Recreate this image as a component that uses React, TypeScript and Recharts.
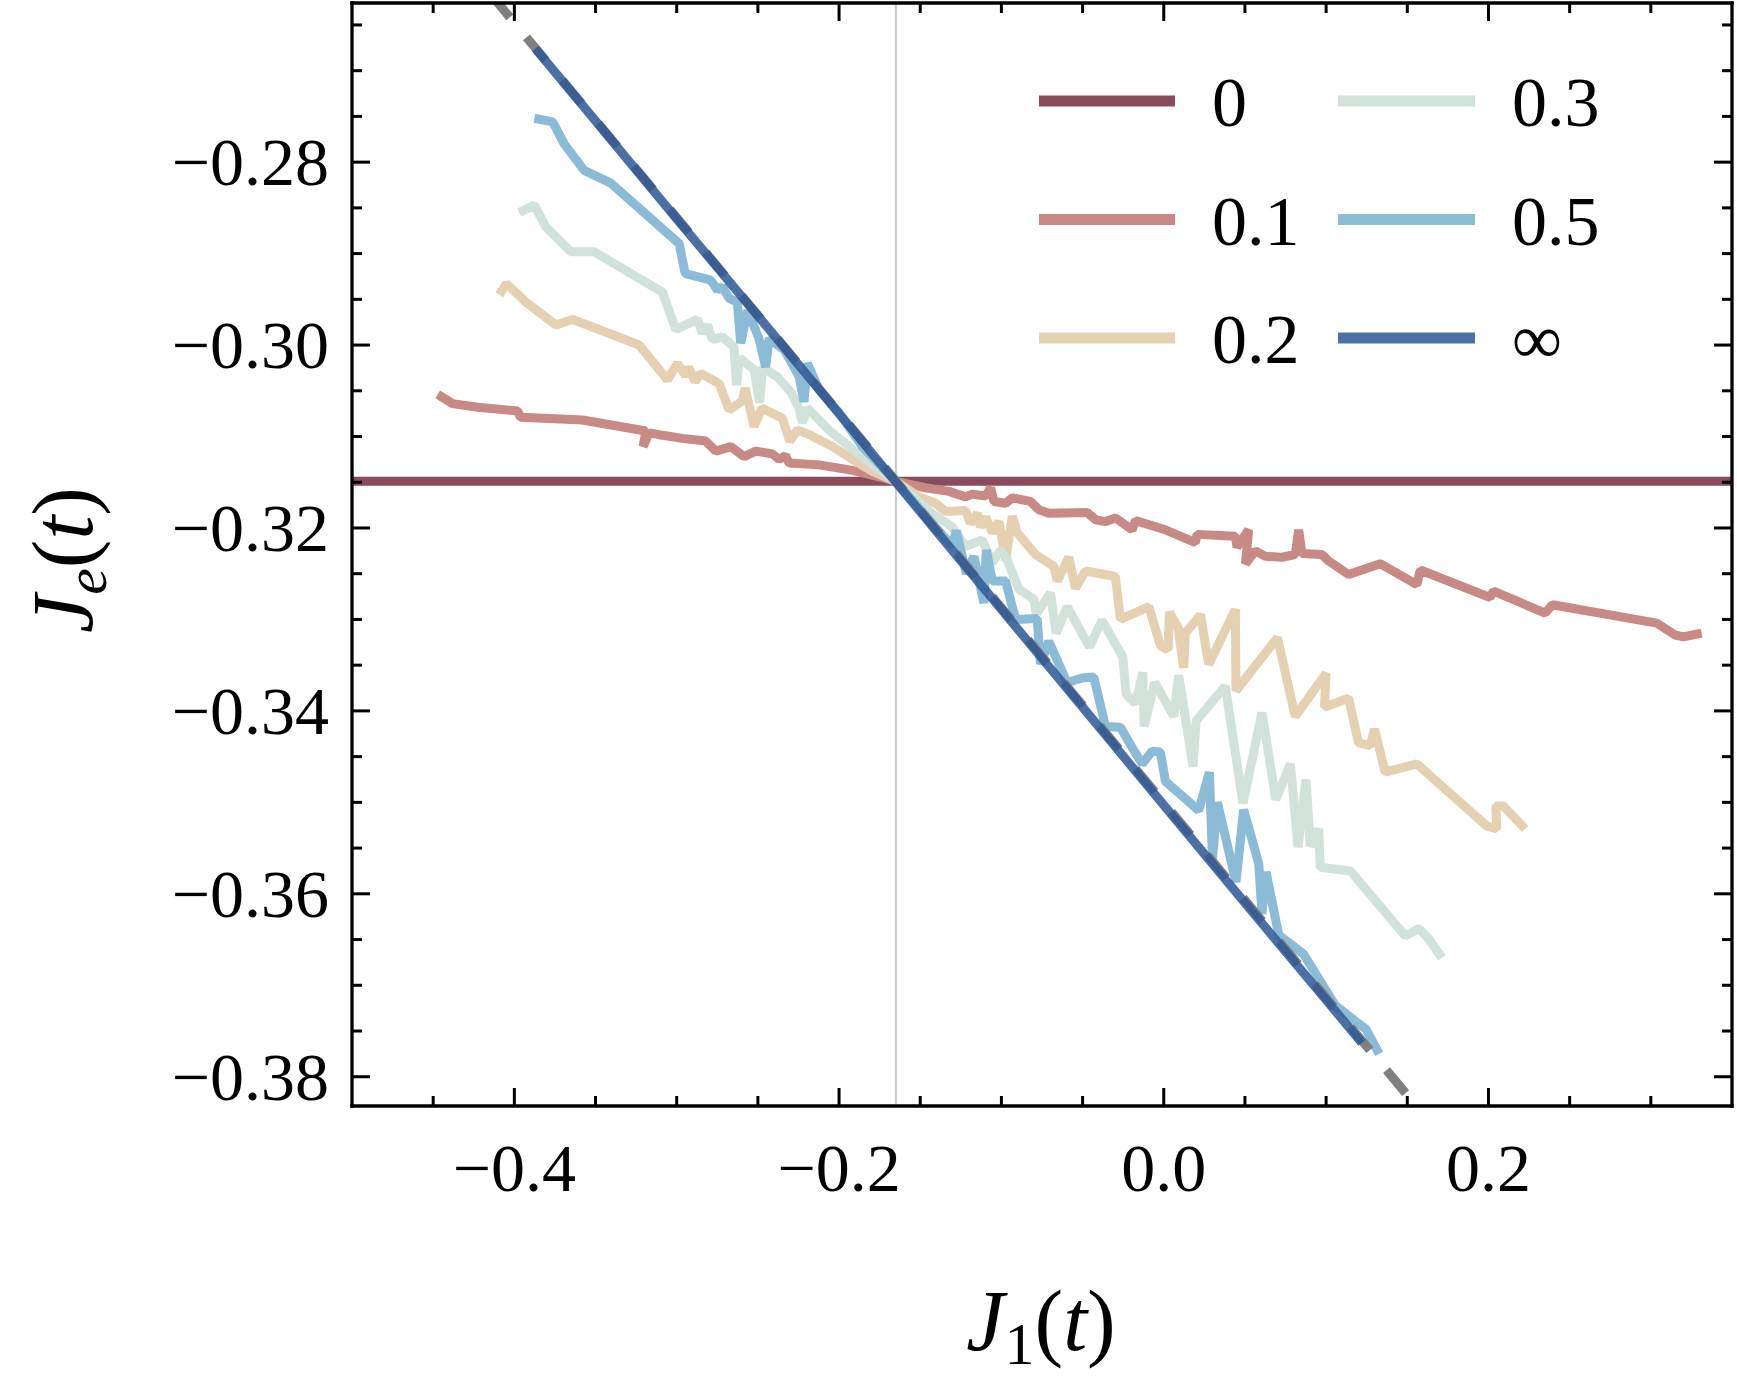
import React from "react";
import { LineChart, Line, XAxis, YAxis } from "recharts";

// axis ticks
const xMajorTicks = [-0.4, -0.2, 0.0, 0.2];
const xTickLabels = ["−0.4", "−0.2", "0.0", "0.2"];
const xMinorTicks = [-0.45, -0.35, -0.3, -0.25, -0.15, -0.1, -0.05, 0.05, 0.1, 0.15, 0.25, 0.3];
const yMajorTicks = [-0.28, -0.3, -0.32, -0.34, -0.36, -0.38];
const yTickLabels = ["−0.28", "−0.30", "−0.32", "−0.34", "−0.36", "−0.38"];
const yMinorTicks = [
  -0.265, -0.27, -0.275, -0.285, -0.29, -0.295, -0.305, -0.31, -0.315, -0.325, -0.33, -0.335,
  -0.345, -0.35, -0.355, -0.365, -0.37, -0.375,
];

const xDomain = [-0.5, 0.35];
const yDomain = [-0.3832, -0.2626];

// crossing point marker (thin vertical line)
const crossX = -0.165;
const crossLine = [
  { x: crossX, y: -0.3832 },
  { x: crossX, y: -0.2626 },
];

// kappa = 0 : flat
const kappa0 = [
  { x: -0.5, y: -0.3149 },
  { x: 0.35, y: -0.3149 },
];

const kappa01 = [
  { x: -0.4472, y: -0.3054 }, { x: -0.438, y: -0.3064 }, { x: -0.4226, y: -0.3068 },
  { x: -0.398, y: -0.3072 }, { x: -0.3962, y: -0.3079 }, { x: -0.358, y: -0.3082 },
  { x: -0.319, y: -0.3094 }, { x: -0.3207, y: -0.3111 }, { x: -0.317, y: -0.3096 },
  { x: -0.3108, y: -0.3098 }, { x: -0.2965, y: -0.3102 }, { x: -0.2821, y: -0.3105 },
  { x: -0.2759, y: -0.3116 }, { x: -0.2667, y: -0.3111 }, { x: -0.2585, y: -0.3122 },
  { x: -0.2513, y: -0.3116 }, { x: -0.2411, y: -0.3119 }, { x: -0.237, y: -0.3125 },
  { x: -0.2329, y: -0.3121 }, { x: -0.2308, y: -0.3129 }, { x: -0.2123, y: -0.3131 },
  { x: -0.1918, y: -0.3137 }, { x: -0.1754, y: -0.3144 }, { x: -0.165, y: -0.3149 },
  { x: -0.1467, y: -0.3156 }, { x: -0.1323, y: -0.316 }, { x: -0.1221, y: -0.3166 },
  { x: -0.118, y: -0.3163 }, { x: -0.1097, y: -0.3165 }, { x: -0.1067, y: -0.3156 },
  { x: -0.1046, y: -0.3171 }, { x: -0.0974, y: -0.3173 }, { x: -0.0933, y: -0.3167 },
  { x: -0.0821, y: -0.3171 }, { x: -0.0769, y: -0.318 }, { x: -0.0708, y: -0.3184 },
  { x: -0.0472, y: -0.3183 }, { x: -0.0421, y: -0.3191 }, { x: -0.0359, y: -0.3193 },
  { x: -0.0297, y: -0.3189 }, { x: -0.0195, y: -0.3202 }, { x: -0.0174, y: -0.3192 },
  { x: 0.001, y: -0.3202 }, { x: 0.0195, y: -0.3216 }, { x: 0.0205, y: -0.3207 },
  { x: 0.0441, y: -0.3209 }, { x: 0.0451, y: -0.3221 }, { x: 0.0523, y: -0.3202 },
  { x: 0.0503, y: -0.3239 }, { x: 0.0564, y: -0.3225 }, { x: 0.0626, y: -0.3231 },
  { x: 0.0728, y: -0.3232 }, { x: 0.081, y: -0.3229 }, { x: 0.0831, y: -0.3202 },
  { x: 0.0851, y: -0.3228 }, { x: 0.0974, y: -0.3229 }, { x: 0.1015, y: -0.3236 },
  { x: 0.1139, y: -0.3251 }, { x: 0.1333, y: -0.3239 }, { x: 0.1559, y: -0.3262 },
  { x: 0.158, y: -0.3246 }, { x: 0.201, y: -0.3276 }, { x: 0.2031, y: -0.3269 },
  { x: 0.2349, y: -0.3293 }, { x: 0.2394, y: -0.3284 }, { x: 0.3036, y: -0.3304 },
  { x: 0.3149, y: -0.3317 }, { x: 0.32, y: -0.3319 }, { x: 0.3313, y: -0.3315 },
];

const kappa02 = [
  { x: -0.4093, y: -0.2945 }, { x: -0.4048, y: -0.2933 }, { x: -0.3929, y: -0.2953 },
  { x: -0.3744, y: -0.2978 }, { x: -0.3641, y: -0.2972 }, { x: -0.3231, y: -0.3 },
  { x: -0.3057, y: -0.3038 }, { x: -0.2995, y: -0.302 }, { x: -0.2944, y: -0.3034 },
  { x: -0.2928, y: -0.3024 }, { x: -0.2887, y: -0.304 }, { x: -0.2852, y: -0.3031 },
  { x: -0.2739, y: -0.3042 }, { x: -0.2677, y: -0.3071 }, { x: -0.2595, y: -0.3061 },
  { x: -0.2579, y: -0.3047 }, { x: -0.2523, y: -0.3089 }, { x: -0.2476, y: -0.3069 },
  { x: -0.2349, y: -0.308 }, { x: -0.2304, y: -0.3105 }, { x: -0.2257, y: -0.3093 },
  { x: -0.2195, y: -0.3097 }, { x: -0.2041, y: -0.3111 }, { x: -0.1918, y: -0.3125 },
  { x: -0.1795, y: -0.3138 }, { x: -0.165, y: -0.3149 }, { x: -0.1508, y: -0.3166 },
  { x: -0.1405, y: -0.3173 }, { x: -0.1344, y: -0.3182 }, { x: -0.1221, y: -0.3181 },
  { x: -0.119, y: -0.3195 }, { x: -0.1149, y: -0.3184 }, { x: -0.1128, y: -0.3199 },
  { x: -0.1097, y: -0.3188 }, { x: -0.1056, y: -0.3205 }, { x: -0.1015, y: -0.3193 },
  { x: -0.0974, y: -0.3235 }, { x: -0.0933, y: -0.3187 }, { x: -0.0903, y: -0.3205 },
  { x: -0.079, y: -0.3229 }, { x: -0.0677, y: -0.3242 }, { x: -0.0656, y: -0.3258 },
  { x: -0.0585, y: -0.3232 }, { x: -0.0544, y: -0.3266 }, { x: -0.0482, y: -0.3247 },
  { x: -0.0298, y: -0.3253 }, { x: -0.0267, y: -0.33 }, { x: -0.0092, y: -0.3286 },
  { x: -0.002, y: -0.3329 }, { x: 0.0027, y: -0.3333 }, { x: 0.0035, y: -0.3292 },
  { x: 0.0088, y: -0.3309 }, { x: 0.0123, y: -0.3353 }, { x: 0.0133, y: -0.3315 },
  { x: 0.0226, y: -0.3295 }, { x: 0.0277, y: -0.3349 }, { x: 0.0441, y: -0.3289 },
  { x: 0.0445, y: -0.3378 }, { x: 0.07, y: -0.332 }, { x: 0.081, y: -0.3406 },
  { x: 0.0999, y: -0.3359 }, { x: 0.099, y: -0.3396 }, { x: 0.1138, y: -0.3386 },
  { x: 0.12, y: -0.3435 }, { x: 0.1272, y: -0.3438 }, { x: 0.1298, y: -0.342 },
  { x: 0.1364, y: -0.3467 }, { x: 0.1559, y: -0.3458 }, { x: 0.199, y: -0.3526 },
  { x: 0.2051, y: -0.3529 }, { x: 0.2045, y: -0.3504 }, { x: 0.2092, y: -0.3504 },
  { x: 0.2226, y: -0.3529 },
];

const kappa03 = [
  { x: -0.397, y: -0.2855 }, { x: -0.3877, y: -0.2847 }, { x: -0.3805, y: -0.2871 },
  { x: -0.3652, y: -0.2898 }, { x: -0.3508, y: -0.2898 }, { x: -0.3088, y: -0.2942 },
  { x: -0.3006, y: -0.2983 }, { x: -0.2872, y: -0.2972 }, { x: -0.2841, y: -0.2987 },
  { x: -0.2811, y: -0.2978 }, { x: -0.278, y: -0.2994 }, { x: -0.2718, y: -0.2991 },
  { x: -0.2647, y: -0.3002 }, { x: -0.2632, y: -0.3044 }, { x: -0.2612, y: -0.3014 },
  { x: -0.2523, y: -0.3027 }, { x: -0.2489, y: -0.3063 }, { x: -0.2472, y: -0.3024 },
  { x: -0.238, y: -0.3035 }, { x: -0.2298, y: -0.3051 }, { x: -0.2247, y: -0.3069 },
  { x: -0.2226, y: -0.3085 }, { x: -0.2195, y: -0.3069 }, { x: -0.2062, y: -0.3093 },
  { x: -0.1918, y: -0.3114 }, { x: -0.1754, y: -0.3136 }, { x: -0.165, y: -0.3149 },
  { x: -0.1426, y: -0.3184 }, { x: -0.1303, y: -0.3199 }, { x: -0.1221, y: -0.322 },
  { x: -0.1118, y: -0.3213 }, { x: -0.1056, y: -0.3238 }, { x: -0.1005, y: -0.3224 },
  { x: -0.0964, y: -0.3235 }, { x: -0.0892, y: -0.3267 }, { x: -0.08, y: -0.3278 },
  { x: -0.0786, y: -0.3294 }, { x: -0.0698, y: -0.3271 }, { x: -0.0663, y: -0.3315 },
  { x: -0.0595, y: -0.3286 }, { x: -0.0458, y: -0.333 }, { x: -0.038, y: -0.3301 },
  { x: -0.0252, y: -0.3341 }, { x: -0.0232, y: -0.3382 }, { x: -0.0174, y: -0.3392 },
  { x: -0.0129, y: -0.3358 }, { x: -0.0121, y: -0.3417 }, { x: -0.0055, y: -0.3369 },
  { x: 0.0062, y: -0.3406 }, { x: 0.0092, y: -0.3361 }, { x: 0.018, y: -0.3461 },
  { x: 0.0199, y: -0.3411 }, { x: 0.0379, y: -0.3373 }, { x: 0.0488, y: -0.3501 },
  { x: 0.0605, y: -0.3402 }, { x: 0.069, y: -0.3497 }, { x: 0.078, y: -0.3458 },
  { x: 0.0827, y: -0.3549 }, { x: 0.0876, y: -0.3475 }, { x: 0.0903, y: -0.3548 },
  { x: 0.0954, y: -0.3529 }, { x: 0.0964, y: -0.3571 }, { x: 0.1149, y: -0.3575 },
  { x: 0.1487, y: -0.3646 }, { x: 0.1573, y: -0.3638 }, { x: 0.1631, y: -0.3649 },
  { x: 0.1713, y: -0.367 },
];

const kappa05 = [
  { x: -0.3877, y: -0.2752 }, { x: -0.3764, y: -0.2756 }, { x: -0.3693, y: -0.278 },
  { x: -0.357, y: -0.2809 }, { x: -0.3406, y: -0.2823 }, { x: -0.2985, y: -0.2889 },
  { x: -0.2948, y: -0.2922 }, { x: -0.279, y: -0.2929 }, { x: -0.2749, y: -0.294 },
  { x: -0.2718, y: -0.2936 }, { x: -0.2677, y: -0.2949 }, { x: -0.2626, y: -0.2953 },
  { x: -0.2606, y: -0.2998 }, { x: -0.2564, y: -0.2962 }, { x: -0.2493, y: -0.2993 },
  { x: -0.2452, y: -0.3024 }, { x: -0.2431, y: -0.2993 }, { x: -0.2339, y: -0.3005 },
  { x: -0.2247, y: -0.3034 }, { x: -0.2216, y: -0.3062 }, { x: -0.2195, y: -0.302 },
  { x: -0.2123, y: -0.3049 }, { x: -0.2, y: -0.3074 }, { x: -0.1857, y: -0.3111 },
  { x: -0.165, y: -0.3149 }, { x: -0.1303, y: -0.322 }, { x: -0.1278, y: -0.3203 },
  { x: -0.1216, y: -0.325 }, { x: -0.1169, y: -0.3231 }, { x: -0.1108, y: -0.3282 },
  { x: -0.1093, y: -0.3224 }, { x: -0.1056, y: -0.3258 }, { x: -0.0974, y: -0.3258 },
  { x: -0.0913, y: -0.33 }, { x: -0.078, y: -0.3299 }, { x: -0.0759, y: -0.3349 },
  { x: -0.0708, y: -0.3324 }, { x: -0.0596, y: -0.3369 }, { x: -0.0503, y: -0.3364 },
  { x: -0.0431, y: -0.3363 }, { x: -0.0359, y: -0.3417 }, { x: -0.0267, y: -0.3418 },
  { x: -0.0195, y: -0.344 }, { x: -0.0133, y: -0.3458 }, { x: -0.0072, y: -0.3444 },
  { x: -0.0021, y: -0.3445 }, { x: 0.001, y: -0.3477 }, { x: 0.0113, y: -0.3493 },
  { x: 0.0215, y: -0.3509 }, { x: 0.0281, y: -0.3467 }, { x: 0.03, y: -0.3562 },
  { x: 0.033, y: -0.35 }, { x: 0.0445, y: -0.3587 }, { x: 0.0492, y: -0.3508 },
  { x: 0.0585, y: -0.3567 }, { x: 0.0605, y: -0.3622 }, { x: 0.063, y: -0.3576 },
  { x: 0.0708, y: -0.3645 }, { x: 0.0861, y: -0.3666 }, { x: 0.1056, y: -0.3722 },
  { x: 0.12, y: -0.3742 }, { x: 0.1245, y: -0.3748 }, { x: 0.1327, y: -0.3775 },
];

const kappaInf = [
  { x: -0.387, y: -0.2676 }, { x: -0.35, y: -0.2755 }, { x: -0.3, y: -0.2862 },
  { x: -0.25, y: -0.2968 }, { x: -0.2, y: -0.3075 }, { x: -0.165, y: -0.315 },
  { x: -0.13, y: -0.3225 }, { x: -0.1, y: -0.3289 }, { x: -0.05, y: -0.3396 },
  { x: 0.0, y: -0.3503 }, { x: 0.05, y: -0.361 }, { x: 0.1, y: -0.3716 },
  { x: 0.122, y: -0.3763 },
];

// analytic reference line (dashed grey), listed from its lower end
const analytic = [
  { x: 0.149, y: -0.3818 },
  { x: -0.412, y: -0.2622 },
];

const seriesNames = ["0", "0.1", "0.2", "0.3", "0.5", "∞"];
const seriesColors = ["#8a4b5c", "#c78a84", "#e5d0b2", "#d1e2da", "#8bbbd6", "#2e5896"];
const seriesData = [kappa0, kappa01, kappa02, kappa03, kappa05, kappaInf];

const FONT = "'Liberation Serif', 'Times New Roman', serif";

const isIn = (v: number, list: number[]) => list.findIndex((m) => Math.abs(m - v) < 1e-9);

function makeTick(side: "bottom" | "top" | "left" | "right") {
  return (props: any) => {
    const { x, y, payload } = props;
    const v = payload.value;
    const horizontal = side === "bottom" || side === "top";
    const majors = horizontal ? xMajorTicks : yMajorTicks;
    const idx = isIn(v, majors);
    const len = idx >= 0 ? 18 : 10;
    let line = null;
    if (side === "bottom") line = <line x1={x} y1={y} x2={x} y2={y - len} />;
    if (side === "top") line = <line x1={x} y1={y} x2={x} y2={y + len} />;
    if (side === "left") line = <line x1={x} y1={y} x2={x + len} y2={y} />;
    if (side === "right") line = <line x1={x} y1={y} x2={x - len} y2={y} />;
    let label = null;
    if (idx >= 0 && side === "bottom") {
      label = (
        <text x={x} y={y + 85} textAnchor="middle" fontSize={68} fontFamily={FONT} fill="#000">
          {xTickLabels[idx]}
        </text>
      );
    }
    if (idx >= 0 && side === "left") {
      label = (
        <text x={x - 23} y={y + 23} textAnchor="end" fontSize={68} fontFamily={FONT} fill="#000">
          {yTickLabels[idx]}
        </text>
      );
    }
    return (
      <g>
        <g stroke="#000" strokeWidth={3}>{line}</g>
        {label}
      </g>
    );
  };
}

const axisLineStyle = { stroke: "#000", strokeWidth: 3.3, strokeLinecap: "square" as const };

export default function App() {
  const xTicks = [...xMajorTicks, ...xMinorTicks];
  const yTicks = [...yMajorTicks, ...yMinorTicks];
  const legendCols = [
    { x1: 1039, x2: 1175, tx: 1212 },
    { x1: 1338, x2: 1475, tx: 1512 },
  ];
  return (
    <div style={{ position: "absolute", left: 0, top: 0, width: 1737, height: 1377, background: "#fff" }}>
      <LineChart width={1737} height={1377} margin={{ top: 3, right: 5, bottom: 171, left: 52 }}>
        <XAxis
          xAxisId="b"
          dataKey="x"
          type="number"
          orientation="bottom"
          height={100}
          domain={xDomain}
          allowDataOverflow
          ticks={xTicks}
          interval={0}
          tickSize={0}
          tickMargin={0}
          tickLine={false}
          axisLine={axisLineStyle}
          tick={makeTick("bottom")}
        />
        <XAxis
          xAxisId="t"
          dataKey="x"
          type="number"
          orientation="top"
          mirror
          domain={xDomain}
          allowDataOverflow
          ticks={xTicks}
          interval={0}
          tickSize={0}
          tickMargin={0}
          tickLine={false}
          axisLine={axisLineStyle}
          tick={makeTick("top")}
        />
        <YAxis
          yAxisId="l"
          dataKey="y"
          type="number"
          orientation="left"
          width={300}
          domain={yDomain}
          allowDataOverflow
          ticks={yTicks}
          interval={0}
          tickSize={0}
          tickMargin={0}
          tickLine={false}
          axisLine={axisLineStyle}
          tick={makeTick("left")}
        />
        <YAxis
          yAxisId="r"
          dataKey="y"
          type="number"
          orientation="right"
          mirror
          domain={yDomain}
          allowDataOverflow
          ticks={yTicks}
          interval={0}
          tickSize={0}
          tickMargin={0}
          tickLine={false}
          axisLine={axisLineStyle}
          tick={makeTick("right")}
        />
        <Line
          xAxisId="b"
          yAxisId="l"
          data={crossLine}
          dataKey="y"
          stroke="#c8c8c8"
          strokeWidth={2}
          dot={false}
          activeDot={false}
          isAnimationActive={false}
        />
        {seriesData.slice(0, 5).map((d, i) => (
          <Line
            key={seriesNames[i]}
            xAxisId="b"
            yAxisId="l"
            data={d}
            dataKey="y"
            stroke={seriesColors[i]}
            strokeWidth={9}
            strokeLinejoin="bevel"
            dot={false}
            activeDot={false}
            isAnimationActive={false}
          />
        ))}
        <Line
          xAxisId="b"
          yAxisId="l"
          data={analytic}
          dataKey="y"
          stroke="#7f7f7f"
          strokeWidth={9}
          strokeDasharray="30 26"
          dot={false}
          activeDot={false}
          isAnimationActive={false}
        />
        <Line
          xAxisId="b"
          yAxisId="l"
          data={kappaInf}
          dataKey="y"
          stroke={seriesColors[5]}
          strokeOpacity={0.86}
          strokeWidth={9}
          dot={false}
          activeDot={false}
          isAnimationActive={false}
        />
      </LineChart>
      <svg
        width={1737}
        height={1377}
        style={{ position: "absolute", left: 0, top: 0, pointerEvents: "none" }}
      >
        {seriesNames.map((name, i) => {
          const col = legendCols[i < 3 ? 0 : 1];
          const cy = 101 + (i % 3) * 118.5;
          return (
            <g key={name}>
              <line
                x1={col.x1}
                x2={col.x2}
                y1={cy}
                y2={cy}
                stroke={seriesColors[i]}
                strokeOpacity={i === 5 ? 0.86 : 1}
                strokeWidth={11}
              />
              <text x={col.tx} y={cy + 25} fontSize={70} fontFamily={FONT} fill="#000">
                {name}
              </text>
            </g>
          );
        })}
        <text x={1041} y={1350} textAnchor="middle" fontSize={86} fontFamily={FONT} fill="#000">
          <tspan fontStyle="italic">J</tspan>
          <tspan fontSize={60} dy={14}>1</tspan>
          <tspan dy={-14}>(</tspan>
          <tspan fontStyle="italic">t</tspan>
          <tspan>)</tspan>
        </text>
        <text
          transform="translate(92,560) rotate(-90)"
          textAnchor="middle"
          fontSize={86}
          fontFamily={FONT}
          fill="#000"
        >
          <tspan fontStyle="italic">J</tspan>
          <tspan fontSize={60} fontStyle="italic" dy={14}>e</tspan>
          <tspan dy={-14}>(</tspan>
          <tspan fontStyle="italic">t</tspan>
          <tspan>)</tspan>
        </text>
      </svg>
    </div>
  );
}
